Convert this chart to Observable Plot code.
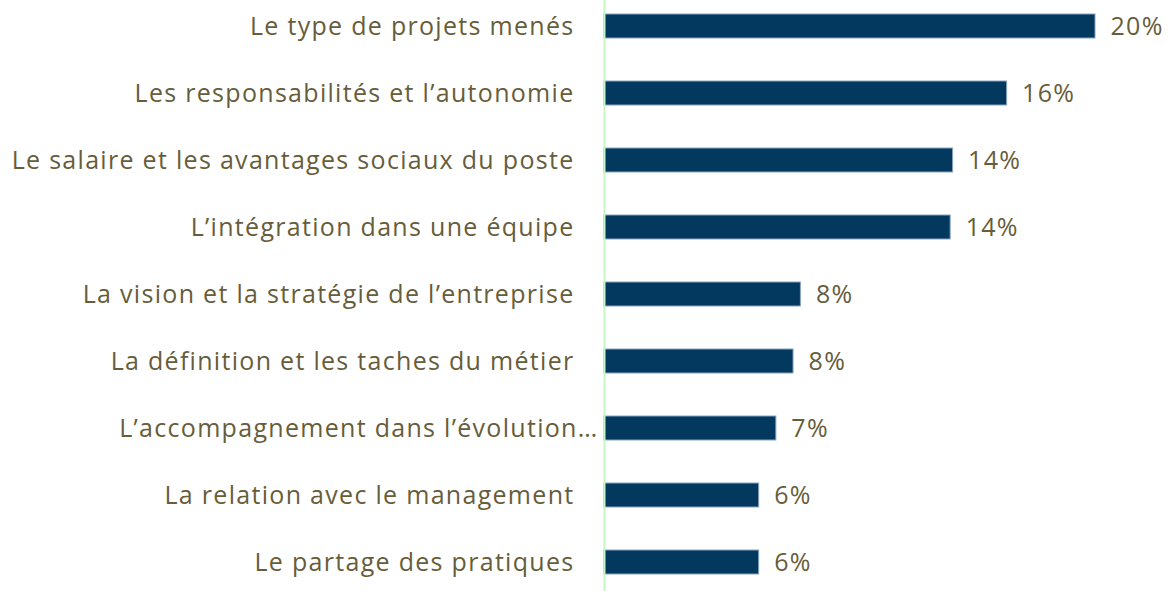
<!DOCTYPE html>
<html>
<head>
<meta charset="utf-8">
<script src="https://cdn.jsdelivr.net/npm/d3@7"></script>
<script src="https://cdn.jsdelivr.net/npm/@observablehq/plot@0.6"></script>
<style>
  html, body { margin: 0; padding: 0; background: #fff; }
  svg { display: block; }
</style>
</head>
<body>
<div id="chart"></div>
<script>
const categories = [
  "Le type de projets menés",
  "Les responsabilités et l’autonomie",
  "Le salaire et les avantages sociaux du poste",
  "L’intégration dans une équipe",
  "La vision et la stratégie de l’entreprise",
  "La définition et les taches du métier",
  "L’accompagnement dans l’évolution…",
  "La relation avec le management",
  "Le partage des pratiques"
];
const values = [20.0, 16.4, 14.2, 14.1, 8.0, 7.7, 7.0, 6.3, 6.3];

const data = categories.map((c, i) => ({category: c, value: values[i]}));
const textColor = "#675d3a";
const truncated = d => d.category.endsWith("…");

const chart = Plot.plot({
  width: 1169,
  height: 591,
  margin: 0,
  style: {fontFamily: "'Open Sans'", background: "#fff", letterSpacing: "1.3px"},
  x: {domain: [0, 20], range: [604, 1095], axis: null},
  y: {domain: categories, range: [-10.3, 598.7], paddingInner: 0.645, paddingOuter: 0.3225, axis: null},
  marks: [
    Plot.barX(data, {x: "value", y: "category", fill: "#03395e", stroke: "#8aa3bd", strokeWidth: 1}),
    Plot.ruleX([0], {stroke: "#c6f6c6", strokeWidth: 2}),
    Plot.text(data, {filter: d => !truncated(d), x: () => 0, y: "category", text: "category",
      textAnchor: "end", dx: -30, fontSize: 25, fill: textColor}),
    Plot.text(data, {filter: truncated, x: () => 0, y: "category", text: "category",
      textAnchor: "end", dx: -6, fontSize: 25, fill: textColor}),
    Plot.text(data, {x: "value", y: "category", text: d => Math.round(d.value) + "%",
      textAnchor: "start", dx: 15, fontSize: 25, fill: textColor})
  ]
});
document.getElementById("chart").appendChild(chart);
</script>
</body>
</html>
